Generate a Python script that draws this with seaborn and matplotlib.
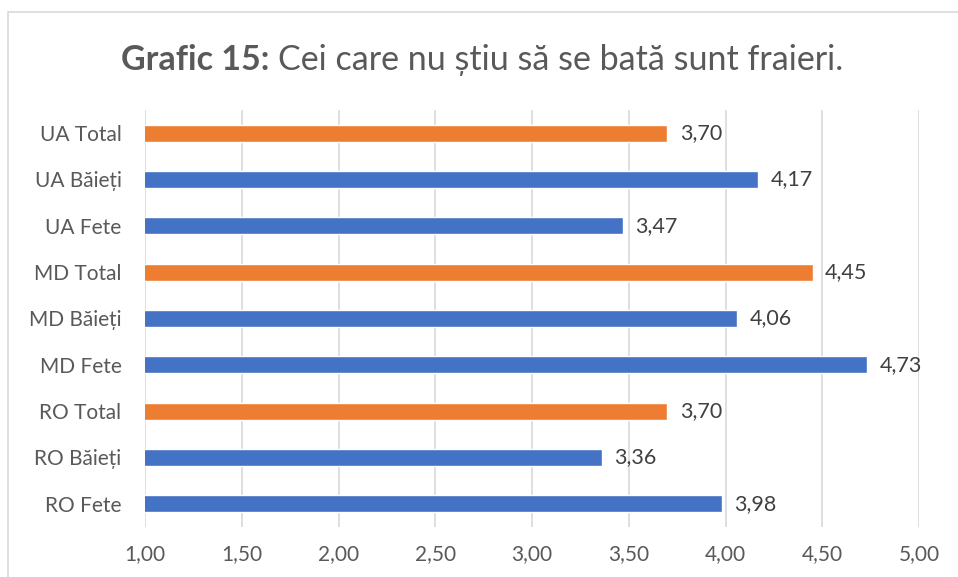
import matplotlib
matplotlib.use("Agg")
import matplotlib.pyplot as plt
import matplotlib.patches as mpatches
import seaborn as sns
import pandas as pd

# Date din grafic (de sus în jos)
categorii = ["UA Total", "UA Băieți", "UA Fete",
             "MD Total", "MD Băieți", "MD Fete",
             "RO Total", "RO Băieți", "RO Fete"]
valori = [3.70, 4.17, 3.47, 4.45, 4.06, 4.73, 3.70, 3.36, 3.98]
grup = ["Total" if c.endswith("Total") else "Gen" for c in categorii]
x_ticks = [1.0, 1.5, 2.0, 2.5, 3.0, 3.5, 4.0, 4.5, 5.0]

ALBASTRU = "#4472C4"
PORTOCALIU = "#ED7D31"
GRI_TEXT = "#595959"

sns.set_theme(style="white")
plt.rcParams["font.family"] = ["Lato", "DejaVu Sans"]

df = pd.DataFrame({"categorie": categorii, "valoare": valori, "grup": grup})

fig = plt.figure(figsize=(9.58, 5.77), dpi=100)
ax = fig.add_axes([0.1514, 0.0867, 0.8079, 0.7227])

# chenarul graficului
fig.patches.append(mpatches.Rectangle((8 / 958, -0.1), 1.2, 0.1 + 1 - 12 / 577,
                                      transform=fig.transFigure, fill=False,
                                      edgecolor="#D9D9D9", linewidth=1.2))

sns.barplot(data=df, x="valoare", y="categorie", hue="grup",
            palette={"Total": PORTOCALIU, "Gen": ALBASTRU}, saturation=1,
            orient="h", dodge=False, width=0.37, legend=False, ax=ax)

for cont in ax.containers:
    etichete = [f"{r.get_width():.2f}".replace(".", ",") if r.get_width() > 0 else ""
                for r in cont]
    ax.bar_label(cont, labels=etichete, padding=9, fontsize=15.5, color="#404040")

ax.set_xlim(1.0, 5.0)
ax.set_ylim(8.5, -0.5)
ax.set_xticks(x_ticks)
ax.set_xticklabels([f"{t:.2f}".replace(".", ",") for t in x_ticks])
ax.grid(axis="x", color="#D9D9D9", linewidth=1.2)
ax.set_axisbelow(True)
for s in ax.spines.values():
    s.set_visible(False)
ax.set_xlabel("")
ax.set_ylabel("")
ax.tick_params(axis="both", length=0, labelsize=15, labelcolor=GRI_TEXT)
ax.tick_params(axis="x", pad=12)
ax.tick_params(axis="y", pad=17)

# titlu: partea îngroșată + restul normal, centrat împreună
fig.canvas.draw()
r = fig.canvas.get_renderer()
t1 = fig.text(0, 0, "Grafic 15: ", fontsize=24.5, fontweight="bold", color=GRI_TEXT)
t2 = fig.text(0, 0, "Cei care nu știu să se bată sunt fraieri.", fontsize=24.5, color=GRI_TEXT)
w1 = t1.get_window_extent(r).width
w2 = t2.get_window_extent(r).width
x0 = 482 - (w1 + w2) / 2
y0 = 1 - 70 / 577
t1.set_position((x0 / 958, y0))
t2.set_position(((x0 + w1) / 958, y0))

fig.savefig("out.png", dpi=100)
